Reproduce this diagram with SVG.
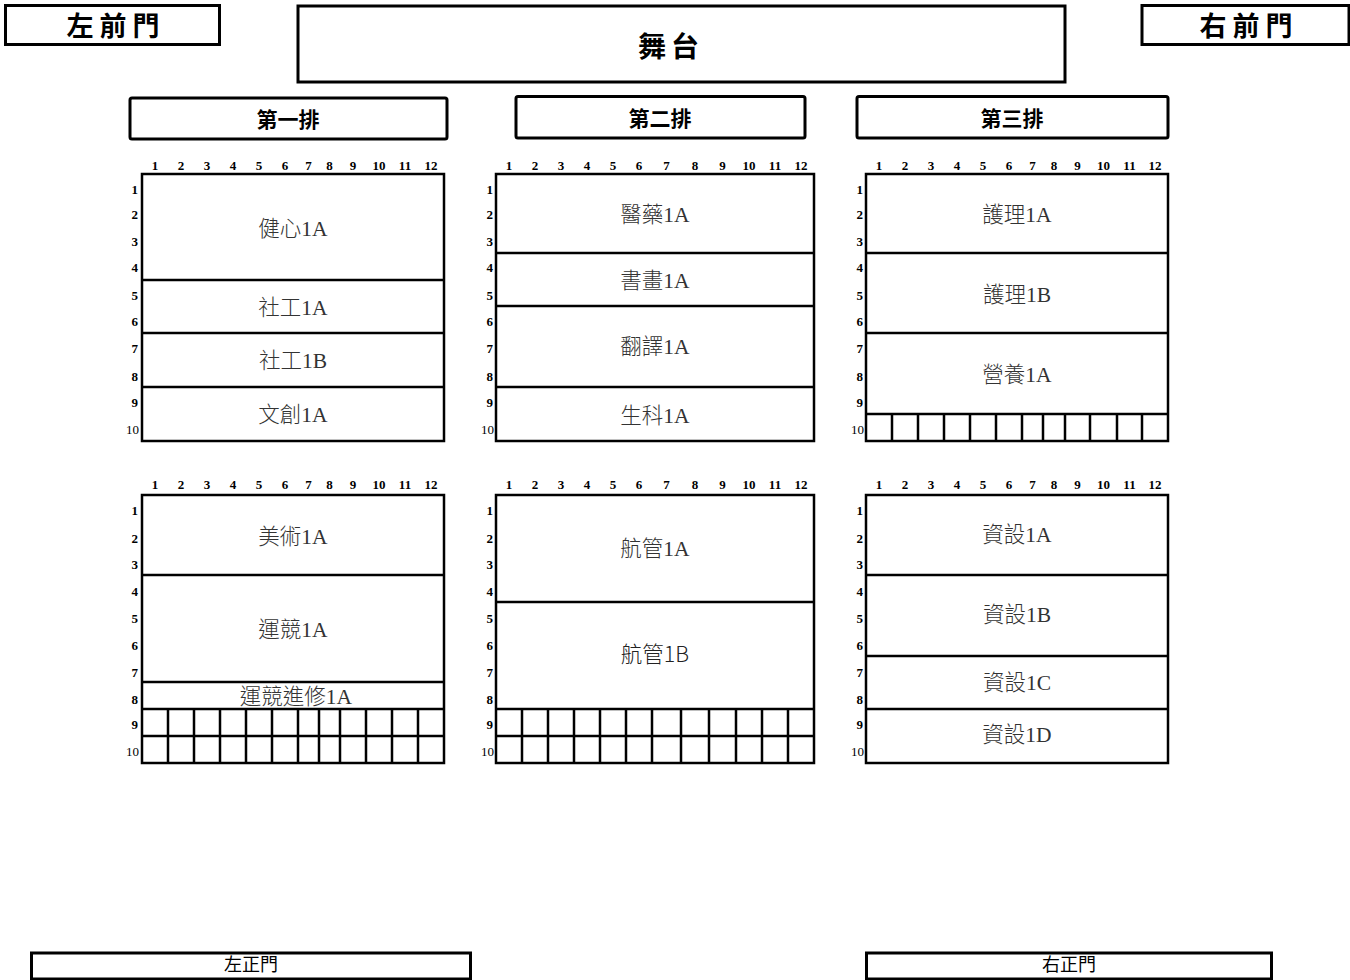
<svg xmlns="http://www.w3.org/2000/svg" width="1350" height="980" viewBox="0 0 1350 980">
<style>
.box{fill:#fff;stroke:#000;stroke-width:3}
.g{fill:none;stroke:#000;stroke-width:2.5}
.kai{font-family:"Noto Sans CJK TC","Noto Sans CJK SC",sans-serif;font-weight:700;font-size:27px;fill:#000;text-anchor:middle;letter-spacing:6px}
.hdr{font-family:"Noto Sans CJK TC",sans-serif;font-weight:700;font-size:21px;fill:#000;text-anchor:middle}
.door{font-family:"Noto Sans CJK TC",sans-serif;font-weight:400;font-size:18px;fill:#000;text-anchor:middle}
.cn{font-family:"Liberation Serif","Times New Roman",serif;font-weight:700;font-size:13px;fill:#000;text-anchor:middle}
.rn{font-family:"Liberation Serif","Times New Roman",serif;font-weight:700;font-size:13px;fill:#000;text-anchor:end}
.rn10{font-weight:400}
.lab{font-family:"Liberation Serif","Noto Sans CJK TC",serif;font-weight:300;font-size:21.5px;fill:#333;text-anchor:middle}
.labs{font-family:"Noto Sans CJK TC",sans-serif;font-weight:300;font-size:21.5px;fill:#222;text-anchor:middle}
</style>
<rect width="1350" height="980" fill="#fff"/>

<g id="left-front-door">
<rect class="box" x="5.5" y="5.5" width="214" height="39"/>
<text class="kai" x="116" y="36">左前門</text>
</g>
<g id="stage">
<rect class="box" x="298" y="6" width="767" height="76"/>
<text class="kai" x="671" y="57" style="font-size:28px;letter-spacing:5px">舞台</text>
</g>
<g id="right-front-door">
<rect class="box" x="1142" y="5.5" width="207" height="39"/>
<text class="kai" x="1249" y="36">右前門</text>
</g>

<g id="row1-header">
<rect class="box" x="130" y="98" width="317" height="41" rx="2"/>
<text class="hdr" x="288" y="127">第一排</text>
</g>
<g id="row2-header">
<rect class="box" x="516" y="96.5" width="289" height="41.5" rx="2"/>
<text class="hdr" x="660" y="125.5">第二排</text>
</g>
<g id="row3-header">
<rect class="box" x="857" y="96.5" width="311" height="41.5" rx="2"/>
<text class="hdr" x="1012" y="125.5">第三排</text>
</g>

<!-- Block 1 top -->
<g id="block-1-top">
<g>
<text class="cn" x="155" y="170">1</text><text class="cn" x="181" y="170">2</text><text class="cn" x="207" y="170">3</text><text class="cn" x="233" y="170">4</text><text class="cn" x="259" y="170">5</text><text class="cn" x="285" y="170">6</text><text class="cn" x="308.5" y="170">7</text><text class="cn" x="329.5" y="170">8</text><text class="cn" x="353" y="170">9</text><text class="cn" x="379" y="170">10</text><text class="cn" x="405" y="170">11</text><text class="cn" x="431" y="170">12</text>
</g>
<g>
<text class="rn" x="138" y="194">1</text><text class="rn" x="138" y="219">2</text><text class="rn" x="138" y="246">3</text><text class="rn" x="138" y="272">4</text><text class="rn" x="138" y="300">5</text><text class="rn" x="138" y="326">6</text><text class="rn" x="138" y="353">7</text><text class="rn" x="138" y="381">8</text><text class="rn" x="138" y="407">9</text><text class="rn rn10" x="139" y="434">10</text>
</g>
<rect class="g" x="142" y="174" width="302" height="267"/>
<path class="g" d="M142 280H444M142 333H444M142 387H444"/>
<text class="lab" x="293" y="236">健心1A</text>
<text class="lab" x="293" y="314.5">社工1A</text>
<text class="lab" x="293" y="367.5">社工1B</text>
<text class="lab" x="293" y="422">文創1A</text>
</g>

<!-- Block 2 top -->
<g id="block-2-top">
<g>
<text class="cn" x="509" y="170">1</text><text class="cn" x="535" y="170">2</text><text class="cn" x="561" y="170">3</text><text class="cn" x="587" y="170">4</text><text class="cn" x="613" y="170">5</text><text class="cn" x="639" y="170">6</text><text class="cn" x="666.5" y="170">7</text><text class="cn" x="695" y="170">8</text><text class="cn" x="722.5" y="170">9</text><text class="cn" x="749" y="170">10</text><text class="cn" x="775" y="170">11</text><text class="cn" x="801" y="170">12</text>
</g>
<g>
<text class="rn" x="493" y="194">1</text><text class="rn" x="493" y="219">2</text><text class="rn" x="493" y="246">3</text><text class="rn" x="493" y="272">4</text><text class="rn" x="493" y="300">5</text><text class="rn" x="493" y="326">6</text><text class="rn" x="493" y="353">7</text><text class="rn" x="493" y="381">8</text><text class="rn" x="493" y="407">9</text><text class="rn rn10" x="494" y="434">10</text>
</g>
<rect class="g" x="496" y="174" width="318" height="267"/>
<path class="g" d="M496 253H814M496 306H814M496 387H814"/>
<text class="lab" x="655" y="222">醫藥1A</text>
<text class="lab" x="655" y="288">書畫1A</text>
<text class="lab" x="655" y="354">翻譯1A</text>
<text class="lab" x="655" y="423">生科1A</text>
</g>

<!-- Block 3 top -->
<g id="block-3-top">
<g>
<text class="cn" x="879" y="170">1</text><text class="cn" x="905" y="170">2</text><text class="cn" x="931" y="170">3</text><text class="cn" x="957" y="170">4</text><text class="cn" x="983" y="170">5</text><text class="cn" x="1009" y="170">6</text><text class="cn" x="1032.5" y="170">7</text><text class="cn" x="1054" y="170">8</text><text class="cn" x="1077.5" y="170">9</text><text class="cn" x="1103.5" y="170">10</text><text class="cn" x="1129.5" y="170">11</text><text class="cn" x="1155" y="170">12</text>
</g>
<g>
<text class="rn" x="863" y="194">1</text><text class="rn" x="863" y="219">2</text><text class="rn" x="863" y="246">3</text><text class="rn" x="863" y="272">4</text><text class="rn" x="863" y="300">5</text><text class="rn" x="863" y="326">6</text><text class="rn" x="863" y="353">7</text><text class="rn" x="863" y="381">8</text><text class="rn" x="863" y="407">9</text><text class="rn rn10" x="864" y="434">10</text>
</g>
<rect class="g" x="866" y="174" width="302" height="267"/>
<path class="g" d="M866 253H1169M866 333H1169M866 414H1169"/>
<path class="g" d="M892 414V441M918 414V441M944 414V441M970 414V441M996 414V441M1022 414V441M1043 414V441M1065 414V441M1090 414V441M1117 414V441M1142 414V441"/>
<text class="lab" x="1017" y="222">護理1A</text>
<text class="lab" x="1017" y="302">護理1B</text>
<text class="lab" x="1017" y="382">營養1A</text>
</g>

<!-- Block 1 bottom -->
<g id="block-1-bottom">
<g>
<text class="cn" x="155" y="489">1</text><text class="cn" x="181" y="489">2</text><text class="cn" x="207" y="489">3</text><text class="cn" x="233" y="489">4</text><text class="cn" x="259" y="489">5</text><text class="cn" x="285" y="489">6</text><text class="cn" x="308.5" y="489">7</text><text class="cn" x="329.5" y="489">8</text><text class="cn" x="353" y="489">9</text><text class="cn" x="379" y="489">10</text><text class="cn" x="405" y="489">11</text><text class="cn" x="431" y="489">12</text>
</g>
<g>
<text class="rn" x="138" y="515">1</text><text class="rn" x="138" y="543">2</text><text class="rn" x="138" y="569">3</text><text class="rn" x="138" y="596">4</text><text class="rn" x="138" y="623">5</text><text class="rn" x="138" y="650">6</text><text class="rn" x="138" y="677">7</text><text class="rn" x="138" y="704">8</text><text class="rn" x="138" y="729">9</text><text class="rn rn10" x="139" y="756">10</text>
</g>
<rect class="g" x="142" y="495" width="302" height="268"/>
<path class="g" d="M142 575H444M142 682H444M142 709H444M142 736H444"/>
<path class="g" d="M168 709V763M194 709V763M220 709V763M246 709V763M272 709V763M298 709V763M319 709V763M340 709V763M366 709V763M392 709V763M418 709V763"/>
<text class="lab" x="293" y="544">美術1A</text>
<text class="lab" x="293" y="637">運競1A</text>
<text class="lab" x="296" y="704">運競進修1A</text>
</g>

<!-- Block 2 bottom -->
<g id="block-2-bottom">
<g>
<text class="cn" x="509" y="489">1</text><text class="cn" x="535" y="489">2</text><text class="cn" x="561" y="489">3</text><text class="cn" x="587" y="489">4</text><text class="cn" x="613" y="489">5</text><text class="cn" x="639" y="489">6</text><text class="cn" x="666.5" y="489">7</text><text class="cn" x="695" y="489">8</text><text class="cn" x="722.5" y="489">9</text><text class="cn" x="749" y="489">10</text><text class="cn" x="775" y="489">11</text><text class="cn" x="801" y="489">12</text>
</g>
<g>
<text class="rn" x="493" y="515">1</text><text class="rn" x="493" y="543">2</text><text class="rn" x="493" y="569">3</text><text class="rn" x="493" y="596">4</text><text class="rn" x="493" y="623">5</text><text class="rn" x="493" y="650">6</text><text class="rn" x="493" y="677">7</text><text class="rn" x="493" y="704">8</text><text class="rn" x="493" y="729">9</text><text class="rn rn10" x="494" y="756">10</text>
</g>
<rect class="g" x="496" y="495" width="318" height="268"/>
<path class="g" d="M496 602H814M496 709H814M496 736H814"/>
<path class="g" d="M522 709V763M548 709V763M574 709V763M600 709V763M626 709V763M652 709V763M681 709V763M709 709V763M736 709V763M762 709V763M788 709V763"/>
<text class="lab" x="655" y="556">航管1A</text>
<text class="labs" x="655" y="662">航管1B</text>
</g>

<!-- Block 3 bottom -->
<g id="block-3-bottom">
<g>
<text class="cn" x="879" y="489">1</text><text class="cn" x="905" y="489">2</text><text class="cn" x="931" y="489">3</text><text class="cn" x="957" y="489">4</text><text class="cn" x="983" y="489">5</text><text class="cn" x="1009" y="489">6</text><text class="cn" x="1032.5" y="489">7</text><text class="cn" x="1054" y="489">8</text><text class="cn" x="1077.5" y="489">9</text><text class="cn" x="1103.5" y="489">10</text><text class="cn" x="1129.5" y="489">11</text><text class="cn" x="1155" y="489">12</text>
</g>
<g>
<text class="rn" x="863" y="515">1</text><text class="rn" x="863" y="543">2</text><text class="rn" x="863" y="569">3</text><text class="rn" x="863" y="596">4</text><text class="rn" x="863" y="623">5</text><text class="rn" x="863" y="650">6</text><text class="rn" x="863" y="677">7</text><text class="rn" x="863" y="704">8</text><text class="rn" x="863" y="729">9</text><text class="rn rn10" x="864" y="756">10</text>
</g>
<rect class="g" x="866" y="495" width="302" height="268"/>
<path class="g" d="M866 575H1169M866 656H1169M866 709H1169"/>
<text class="lab" x="1017" y="542">資設1A</text>
<text class="lab" x="1017" y="622">資設1B</text>
<text class="lab" x="1017" y="690">資設1C</text>
<text class="lab" x="1017" y="742">資設1D</text>
</g>

<g id="left-main-door">
<rect class="box" x="31.5" y="953" width="439" height="26"/>
<text class="door" x="251" y="971">左正門</text>
</g>
<g id="right-main-door">
<rect class="box" x="866.5" y="953" width="405" height="26"/>
<text class="door" x="1069" y="971">右正門</text>
</g>

<g id="connectors"/>
</svg>
